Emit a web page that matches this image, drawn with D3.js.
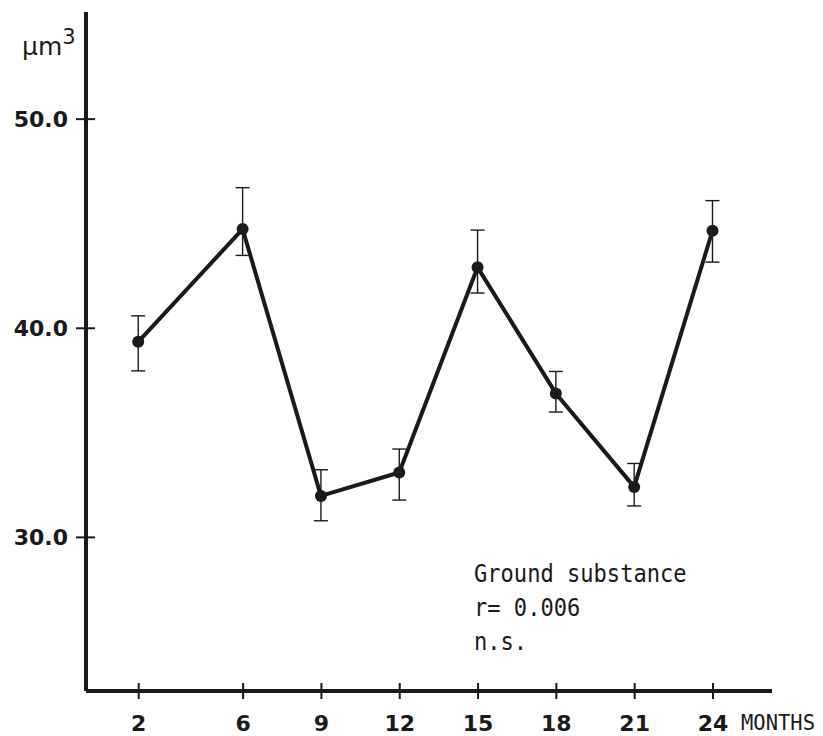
<!DOCTYPE html>
<html>
<head>
<meta charset="utf-8">
<script src="https://cdn.jsdelivr.net/npm/d3@7"></script>
<style>
  body { margin: 0; background: #fff; }
  svg { display: block; }
</style>
</head>
<body>
<div id="chart"></div>
<script>
// months sampled and ground substance volume (um^3), with error bar ends
const months = [2, 6, 9, 12, 15, 18, 21, 24];
const meanValues = [39.33, 44.72, 31.96, 33.08, 42.89, 36.86, 32.39, 44.64];
const upperValues = [40.57, 46.70, 33.21, 34.20, 44.67, 37.91, 33.51, 46.08];
const lowerValues = [37.94, 43.46, 30.77, 31.76, 41.66, 35.97, 31.48, 43.14];
const yTicks = [30, 40, 50];
const noteLines = ['Ground substance', 'r= 0.006', 'n.s.'];

const width = 823;
const height = 736;
const ink = '#1a1a1a';
const boldFont = '"DejaVu Sans", sans-serif';
const lightFont = '"DejaVu Sans Mono", monospace';

const svg = d3.select('#chart').append('svg')
  .attr('width', width)
  .attr('height', height);

const x = d3.scaleLinear()
  .domain([0, 26.28])
  .range([86, 772]);

const y = d3.scaleLinear()
  .domain([22.63, 55.1])
  .range([691, 12]);

const data = months.map((m, i) => ({
  month: m, mean: meanValues[i], hi: upperValues[i], lo: lowerValues[i],
}));

// y axis
const yAxis = svg.append('g')
  .attr('transform', `translate(${x(0)},0)`)
  .call(d3.axisLeft(y).tickValues(yTicks).tickSize(0).tickPadding(0).tickFormat(''));
yAxis.select('.domain')
  .attr('d', `M0,${y(22.63)}V${y(55.1)}`)
  .attr('stroke', ink)
  .attr('stroke-width', 4);
yAxis.selectAll('.tick line')
  .attr('x1', -10).attr('x2', 9)
  .attr('stroke', ink).attr('stroke-width', 2);
yAxis.selectAll('.tick').append('text')
  .attr('x', -18)
  .attr('dy', '0.36em')
  .attr('text-anchor', 'end')
  .attr('fill', ink)
  .style('font-family', boldFont)
  .style('font-weight', 'bold')
  .style('font-size', '22px')
  .text(d => d3.format('.1f')(d));

// x axis
const xAxis = svg.append('g')
  .attr('transform', `translate(0,${y(22.63)})`)
  .call(d3.axisBottom(x).tickValues(months).tickSize(0).tickFormat(''));
xAxis.select('.domain')
  .attr('d', `M${x(0)},0H${x(26.28)}`)
  .attr('stroke', ink)
  .attr('stroke-width', 4);
xAxis.selectAll('.tick line')
  .attr('y1', -8).attr('y2', 8)
  .attr('stroke', ink).attr('stroke-width', 2);
xAxis.selectAll('.tick').append('text')
  .attr('y', 40)
  .attr('text-anchor', 'middle')
  .attr('fill', ink)
  .style('font-family', boldFont)
  .style('font-weight', 'bold')
  .style('font-size', '22px')
  .text(d => d);

svg.append('text')
  .attr('x', 741)
  .attr('y', 730)
  .attr('fill', ink)
  .style('font-family', lightFont)
  .style('font-size', '22px')
  .attr('textLength', 74)
  .attr('lengthAdjust', 'spacingAndGlyphs')
  .text('MONTHS');

// unit label
const unit = svg.append('text')
  .attr('x', 22)
  .attr('y', 55)
  .attr('fill', ink)
  .style('font-family', boldFont)
  .style('font-size', '25px')
  .text('\u03BCm');
unit.append('tspan')
  .attr('dy', -11)
  .style('font-size', '21px')
  .text('3');

// error bars
const bars = svg.append('g')
  .attr('stroke', ink)
  .attr('stroke-width', 1.4)
  .selectAll('g')
  .data(data)
  .enter().append('g');
bars.append('line')
  .attr('x1', d => x(d.month)).attr('x2', d => x(d.month))
  .attr('y1', d => y(d.hi)).attr('y2', d => y(d.lo));
bars.append('line')
  .attr('x1', d => x(d.month) - 7).attr('x2', d => x(d.month) + 7)
  .attr('y1', d => y(d.hi)).attr('y2', d => y(d.hi));
bars.append('line')
  .attr('x1', d => x(d.month) - 7).attr('x2', d => x(d.month) + 7)
  .attr('y1', d => y(d.lo)).attr('y2', d => y(d.lo));

// mean line and points
svg.append('path')
  .datum(data)
  .attr('fill', 'none')
  .attr('stroke', ink)
  .attr('stroke-width', 4)
  .attr('stroke-linejoin', 'round')
  .attr('d', d3.line().x(d => x(d.month)).y(d => y(d.mean)));

svg.append('g')
  .selectAll('circle')
  .data(data)
  .enter().append('circle')
    .attr('cx', d => x(d.month))
    .attr('cy', d => y(d.mean))
    .attr('r', 6)
    .attr('fill', ink);

// annotation (narrow typewriter look)
svg.append('g')
  .attr('transform', 'translate(474,0) scale(0.92,1)')
  .selectAll('text')
  .data(noteLines)
  .enter().append('text')
    .attr('x', 0)
    .attr('y', (d, i) => 582 + i * 34)
    .attr('fill', ink)
    .style('font-family', lightFont)
    .style('font-size', '24px')
    .text(d => d);
</script>
</body>
</html>
